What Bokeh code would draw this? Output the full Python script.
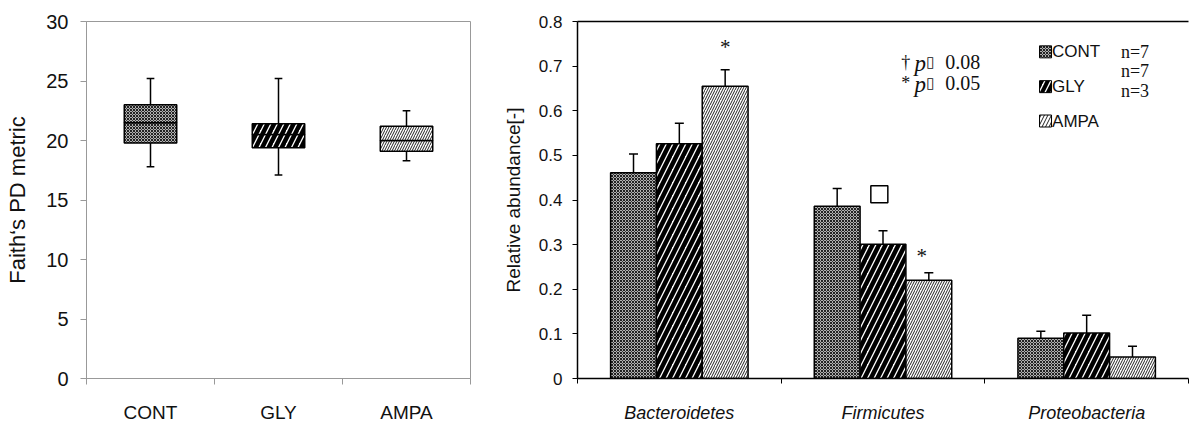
import numpy as np
from bokeh.plotting import figure
from bokeh.layouts import row
from bokeh.models import (FixedTicker, LinearAxis, Range1d, ColumnDataSource,
                          Whisker, TeeHead)
from bokeh.core.properties import value
from bokeh.embed import file_html
from bokeh.resources import INLINE

# ---------------- data ----------------
groups = ["CONT", "GLY", "AMPA"]
# Faith's PD box plot (min, q1, median, q3, max)
pd_min = [17.8, 17.1, 18.3]
pd_q1 = [19.8, 19.4, 19.1]
pd_med = [21.5, 20.5, 20.0]
pd_q3 = [23.0, 21.4, 21.2]
pd_max = [25.2, 25.2, 22.5]

phyla = ["Bacteroidetes", "Firmicutes", "Proteobacteria"]
abund_cont = [0.461, 0.386, 0.090]
abund_gly = [0.526, 0.301, 0.102]
abund_ampa = [0.655, 0.220, 0.048]
err_cont = [0.042, 0.040, 0.016]
err_gly = [0.046, 0.030, 0.040]
err_ampa = [0.037, 0.017, 0.024]
n_labels = ["n=7", "n=7", "n=3"]
sig_notes = ["†", "*"]
sig_p = ["0.08", "0.05"]

# ---------------- styles ----------------
styles = {
    "CONT": dict(fill_color="#b0b0b0", hatch_pattern="diagonal_cross", hatch_scale=3,
                 hatch_weight=1, hatch_color="#222222"),
    "GLY": dict(fill_color="white", hatch_pattern="right_diagonal_line", hatch_scale=13,
                hatch_weight=4.5, hatch_color="black"),
    "AMPA": dict(fill_color="white", hatch_pattern="right_diagonal_line", hatch_scale=5,
                 hatch_weight=1, hatch_color="#222222"),
}
legend_styles = {
    "CONT": styles["CONT"],
    "GLY": dict(styles["GLY"], hatch_scale=12, hatch_weight=4),
    "AMPA": dict(styles["AMPA"], hatch_scale=7, hatch_weight=1),
}
SANS = "Liberation Sans"
SERIF = "Liberation Serif"
TXT = "#111111"

# ---------------- left: box plot ----------------
p1 = figure(width=490, height=425, output_backend="svg", toolbar_location=None,
            x_range=Range1d(0, 3), y_range=Range1d(0, 30),
            min_border_left=86, min_border_right=20, min_border_top=21, min_border_bottom=43)
p1.grid.visible = False
p1.outline_line_color = "#999999"

centers = np.arange(len(groups)) + 0.5
bw = 0.205
for i, g in enumerate(groups):
    st = styles[g]
    c = centers[i]
    p1.segment(x0=[c, c], y0=[pd_q3[i], pd_q1[i]], x1=[c, c], y1=[pd_max[i], pd_min[i]],
               line_color="black", line_width=1.5)
    p1.segment(x0=[c - 0.03, c - 0.03], y0=[pd_max[i], pd_min[i]],
               x1=[c + 0.03, c + 0.03], y1=[pd_max[i], pd_min[i]],
               line_color="black", line_width=1.5)
    p1.quad(left=[c - bw, c - bw], right=[c + bw, c + bw],
            bottom=[pd_q1[i], pd_med[i]], top=[pd_med[i], pd_q3[i]],
            line_color="black", line_width=1.5, **st)

p1.xaxis.ticker = FixedTicker(ticks=list(centers), minor_ticks=[0, 1, 2, 3])
p1.xaxis.major_label_overrides = {float(c): g for c, g in zip(centers, groups)}
p1.xaxis.major_tick_out = 0
p1.xaxis.minor_tick_line_color = "#999999"
p1.xaxis.minor_tick_out = 6
p1.xaxis.minor_tick_in = 0
p1.xaxis.major_label_standoff = 17
p1.yaxis.ticker = FixedTicker(ticks=[0, 5, 10, 15, 20, 25, 30])
p1.yaxis.minor_tick_line_color = None
p1.yaxis.major_tick_out = 6
p1.yaxis.major_tick_in = 0
p1.yaxis.major_tick_line_color = "#999999"
p1.yaxis.major_label_standoff = 12
p1.yaxis.axis_label = "Faith‘s PD metric"
p1.yaxis.axis_label_standoff = 13
for ax in (p1.xaxis[0], p1.yaxis[0]):
    ax.axis_line_color = "#999999"
    ax.major_label_text_font = SANS
    ax.major_label_text_font_size = "20px"
    ax.major_label_text_color = TXT
    ax.axis_label_text_font = SANS
    ax.axis_label_text_font_size = "22px"
    ax.axis_label_text_font_style = "normal"
    ax.axis_label_text_color = TXT
p1.xaxis.major_label_text_font_size = "19px"
p1.xaxis.major_tick_line_color = None

# ---------------- right: bar chart ----------------
p2 = figure(width=700, height=425, output_backend="svg", toolbar_location=None,
            x_range=Range1d(0, 3), y_range=Range1d(0, 0.8),
            min_border_left=87, min_border_right=2, min_border_top=16, min_border_bottom=46)
p2.grid.visible = False
p2.outline_line_color = None

pc = np.arange(len(phyla)) + 0.5
bar_w = 0.225
offsets = {"CONT": -bar_w, "GLY": 0.0, "AMPA": bar_w}
vals = {"CONT": abund_cont, "GLY": abund_gly, "AMPA": abund_ampa}
errs = {"CONT": err_cont, "GLY": err_gly, "AMPA": err_ampa}
for g in groups:
    xs = pc + offsets[g]
    src = ColumnDataSource(dict(x=xs, top=vals[g],
                                upper=np.array(vals[g]) + np.array(errs[g]),
                                lower=np.array(vals[g]) - np.array(errs[g])))
    p2.vbar(x="x", top="top", width=bar_w, source=src, line_color="black",
            line_width=1.5, **styles[g])
    p2.add_layout(Whisker(base="x", upper="upper", lower="lower", source=src,
                          line_color="black", line_width=1.5,
                          upper_head=TeeHead(size=9, line_color="black", line_width=1.5),
                          lower_head=TeeHead(size=9, line_color="black", line_width=1.5)))

# significance marks
sig_x = [pc[0] + bar_w, pc[1] + bar_w - 0.035]
sig_y = [0.743, 0.275]
p2.text(x=sig_x, y=sig_y, text=["*", "*"], text_align="center", text_baseline="middle",
        text_font=value(SERIF), text_font_size="21px", text_color=TXT)
p2.scatter(x=[pc[1] - 0.018], y=[0.413], marker="square", size=17, fill_color=None,
           line_color="black", line_width=1.5)

# p-value notes
note_y = [0.710, 0.663]
p2.text(x=[1.612, 1.612], y=note_y, text=sig_notes, text_align="center", text_baseline="middle",
        text_font=value(SERIF), text_font_size="18px", text_color=TXT)
p2.text(x=[1.655, 1.655], y=[v - 0.004 for v in note_y], text=["p", "p"], text_align="left",
        text_baseline="middle", text_font=value(SERIF), text_font_style="italic",
        text_font_size="23px", text_color=TXT)
p2.text(x=[1.712, 1.712], y=note_y, text=["▯", "▯"], text_align="left", text_baseline="middle",
        text_font=value("DejaVu Sans"), text_font_size="15px", text_color=TXT)
p2.text(x=[1.806, 1.806], y=note_y, text=sig_p, text_align="left", text_baseline="middle",
        text_font=value(SERIF), text_font_size="20px", text_color=TXT)

# legend
leg_y = [0.732, 0.654, 0.577]
for i, g in enumerate(groups):
    p2.rect(x=[2.298], y=[leg_y[i]], width=12, height=12, width_units="screen",
            height_units="screen", line_color="black", line_width=1, **legend_styles[g])
p2.text(x=[2.33] * 3, y=leg_y, text=groups, text_align="left", text_baseline="middle",
        text_font=value(SANS), text_font_size="17px", text_color=TXT)
p2.text(x=[2.668] * 3, y=[0.732, 0.688, 0.644], text=n_labels, text_align="left",
        text_baseline="middle", text_font=value(SERIF), text_font_size="18px",
        text_color=TXT)

p2.xaxis.ticker = FixedTicker(ticks=list(pc), minor_ticks=[0, 1, 2, 3])
p2.xaxis.major_label_overrides = {float(c): ph for c, ph in zip(pc, phyla)}
p2.xaxis.major_tick_out = 0
p2.xaxis.minor_tick_line_color = "black"
p2.xaxis.minor_tick_out = 5
p2.xaxis.minor_tick_in = 0
p2.xaxis.major_label_standoff = 19
p2.yaxis.ticker = FixedTicker(ticks=[0, 0.1, 0.2, 0.3, 0.4, 0.5, 0.6, 0.7, 0.8])
p2.yaxis.major_label_overrides = {0: "0"}
p2.yaxis.minor_tick_line_color = None
p2.yaxis.major_tick_out = 5
p2.yaxis.major_tick_in = 0
p2.yaxis.major_label_standoff = 10
p2.yaxis.axis_label = "Relative abundance[-]"
p2.yaxis.axis_label_standoff = 12
for ax in (p2.xaxis[0], p2.yaxis[0]):
    ax.axis_line_color = "black"
    ax.axis_line_width = 1.5
    ax.major_label_text_font = SANS
    ax.major_label_text_color = TXT
    ax.axis_label_text_font = SANS
    ax.axis_label_text_font_size = "19px"
    ax.axis_label_text_font_style = "normal"
    ax.axis_label_text_color = TXT
p2.xaxis.major_label_text_font_style = "italic"
p2.xaxis.major_label_text_font_size = "18px"
p2.xaxis.major_tick_line_color = None
p2.yaxis.major_label_text_font_size = "17px"
p2.yaxis.major_tick_line_color = "black"
top_axis = LinearAxis(ticker=FixedTicker(ticks=[]), axis_line_color="black", axis_line_width=1.5,
                      major_tick_line_color=None, minor_tick_line_color=None)
p2.add_layout(top_axis, "above")

layout = row(p1, p2)
open("out.html", "w").write(file_html(layout, INLINE))
